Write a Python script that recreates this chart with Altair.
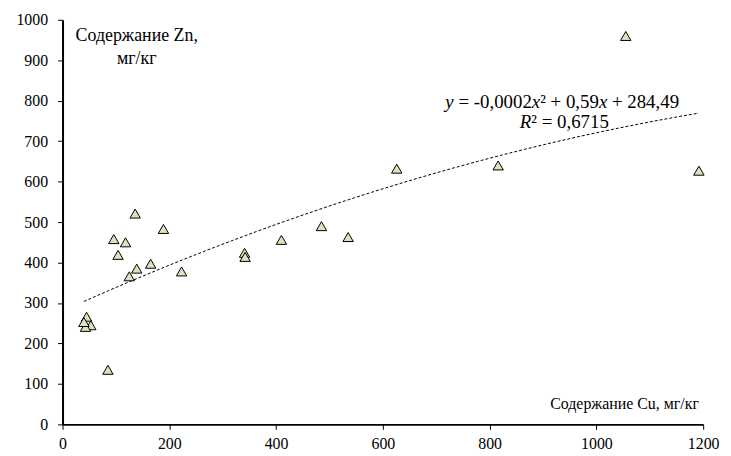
import altair as alt
import pandas as pd

cu = [1055, 1192, 816, 626, 535, 485, 410, 341, 342, 223, 189, 165, 139, 125, 136, 118, 104, 96, 85, 45, 53, 43, 40]
zn = [960, 627, 640, 632, 463, 490, 456, 424, 414, 378, 483, 397, 385, 366, 521, 450, 419, 458, 135, 266, 245, 241, 253]

x_ticks = [0, 200, 400, 600, 800, 1000, 1200]
y_ticks = [0, 100, 200, 300, 400, 500, 600, 700, 800, 900, 1000]

df = pd.DataFrame({"cu": cu, "zn": zn})

FONT = "Liberation Serif"

xs = alt.Scale(domain=[0, 1200], nice=False, zero=False)
ys = alt.Scale(domain=[0, 1000], nice=False, zero=False)

base = alt.Chart(df)

trend = base.transform_regression("cu", "zn", method="poly", order=2).mark_line(
    color="black", strokeWidth=1, strokeDash=[3, 2]
).encode(
    x=alt.X("cu:Q", scale=xs),
    y=alt.Y("zn:Q", scale=ys),
)

points = base.mark_point(
    shape="triangle-up", filled=True, fill="#d8e4bc", stroke="black",
    strokeWidth=1, size=110, opacity=1
).encode(
    x=alt.X("cu:Q", scale=xs, axis=alt.Axis(values=x_ticks, title=None, format="d",
                                             labelFlush=False, labelOverlap=False)),
    y=alt.Y("zn:Q", scale=ys, axis=alt.Axis(values=y_ticks, title=None, format="d",
                                             labelFlush=False, labelOverlap=False)),
)


def label(xv, yv, t, size=16, align="center", style="normal", dx=0):
    row = pd.DataFrame({"x": [xv], "y": [yv], "t": [t]})
    return alt.Chart(row).mark_text(
        font=FONT, fontSize=size, color="black", align=align,
        baseline="alphabetic", fontStyle=style, dx=dx
    ).encode(
        x=alt.X("x:Q", scale=xs),
        y=alt.Y("y:Q", scale=ys),
        text="t:N",
    )


texts = [
    label(139, 948, "Содержание Zn,", size=18),
    label(139, 890, "мг/кг", size=18),
    label(1192, 37, "Содержание Cu, мг/кг", size=16, align="right"),
]

# equation made of italic / upright pieces (widths in em, Times metrics)
S = 19
eq_parts = [("y", "italic", 0.444), ("= -0,0002", "normal", 3.897),
            ("x", "italic", 0.444), ("² + 0,59", "normal", 3.114),
            ("x", "italic", 0.444), ("+ 284,49", "normal", 3.564)]
eq_gaps = [0.0, 0.25, 0.0, 0.0, 0.0, 0.25]
total = sum(w for _, _, w in eq_parts) + sum(eq_gaps)
pos = -total * S / 2
for (t, st, w), g in zip(eq_parts, eq_gaps):
    pos += g * S
    texts.append(label(936, 781, t, size=S, align="left", style=st, dx=pos))
    pos += w * S

r_parts = [("R", "italic", 0.611), ("² = 0,6715", "normal", 4.114)]
total = sum(w for _, _, w in r_parts)
pos = -total * S / 2
for t, st, w in r_parts:
    texts.append(label(940, 732, t, size=S, align="left", style=st, dx=pos))
    pos += w * S

chart = alt.layer(trend, points, *texts).properties(
    width=646, height=408,
    autosize=alt.AutoSizeParams(type="none"),
    padding={"left": 55, "top": 10, "right": 20, "bottom": 30},
).configure_view(stroke=None).configure_axis(
    grid=False,
    domainColor="black",
    domainWidth=2,
    tickColor="black",
    tickSize=5,
    tickWidth=1,
    labelFont=FONT,
    labelFontSize=16,
    labelColor="black",
).configure_axisY(labelPadding=10).configure_axisX(labelPadding=6)

chart.save("out.html", embed_options={"renderer": "svg", "actions": False})
